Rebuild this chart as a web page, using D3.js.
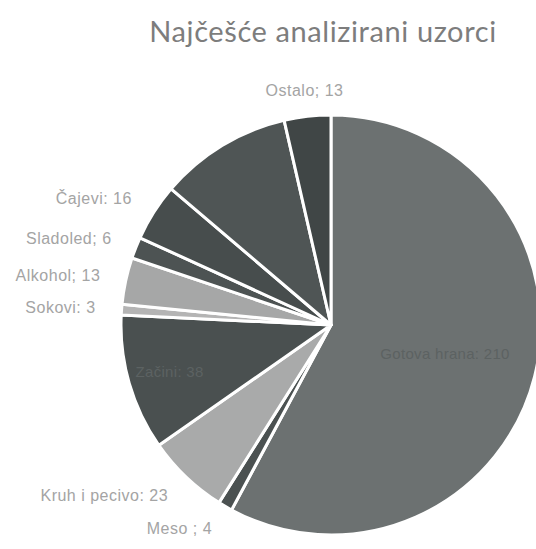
<!DOCTYPE html>
<html lang="hr">
<head>
<meta charset="UTF-8">
<title>Najčešće analizirani uzorci</title>
<script src="https://d3js.org/d3.v7.min.js"></script>
<style>
  * { margin: 0; padding: 0; }
  body { background: #fff; width: 536px; height: 549px; overflow: hidden; }
  .title { font-family: Lato, 'Open Sans', sans-serif; font-size: 29px; fill: #7d7d7d; letter-spacing: 0.6px; }
  .lbl { font-family: 'Liberation Sans', 'DejaVu Sans', sans-serif; font-size: 16px; fill: #a4a4a4; letter-spacing: 0.5px; }
  .lbl-in { font-family: 'Liberation Sans', 'DejaVu Sans', sans-serif; font-size: 15px; fill: #5c6262; letter-spacing: 0.3px; }
</style>
</head>
<body>
<svg width="536" height="549"></svg>
<script>
// slices, clockwise from 12 o'clock
const categories = ['Gotova hrana', 'Meso ', 'Kruh i pecivo', 'Začini', 'Sokovi', 'Alkohol', 'Sladoled', 'Čajevi', 'Kava', 'Ostalo'];
const values     = [210, 4, 23, 38, 3, 13, 6, 16, 37, 13];
const separators = [': ', '; ', ': ', ': ', ': ', '; ', '; ', ': ', ': ', '; '];
// where the label sits: outside the pie, inside it, or not shown (dark on dark in the scan)
const labelPlace = ['in', 'out', 'out', 'in', 'out', 'out', 'out', 'out', 'none', 'out'];
const fills      = ['#6c7171', '#4b5151', '#a9aaaa', '#4a5050', '#b4b4b4', '#a6a7a7', '#4d5353', '#474d4d', '#4f5555', '#404646'];

const svg = d3.select('svg');
const cx = 331, cy = 325, radius = 210;

svg.append('text')
  .attr('class', 'title')
  .attr('x', 323).attr('y', 42)
  .attr('text-anchor', 'middle')
  .text('Najčešće analizirani uzorci');

const data = categories.map((c, i) => ({ name: c, value: values[i], sep: separators[i], place: labelPlace[i], fill: fills[i] }));

const pie = d3.pie().value(d => d.value).sort(null);
const arcs = pie(data);

const arc = d3.arc().innerRadius(0).outerRadius(radius);
const outerLabelArc = d3.arc().innerRadius(radius + 26).outerRadius(radius + 26);
// big slice keeps its label closer to the centre, like the original
const innerLabelArc = d3.arc()
  .innerRadius(d => (d.endAngle - d.startAngle > Math.PI ? 0.56 : 0.8) * radius)
  .outerRadius(d => (d.endAngle - d.startAngle > Math.PI ? 0.56 : 0.8) * radius);

const g = svg.append('g').attr('transform', `translate(${cx},${cy})`);

g.selectAll('path')
  .data(arcs).join('path')
  .attr('d', arc)
  .attr('fill', d => d.data.fill)
  .attr('stroke', '#fff')
  .attr('stroke-width', 3)
  .attr('stroke-linejoin', 'round');

const labelText = d => d.data.name + d.data.sep + d.data.value;

// outside labels
g.selectAll('text.lbl')
  .data(arcs.filter(d => d.data.place === 'out')).join('text')
  .attr('class', 'lbl')
  .attr('transform', d => `translate(${outerLabelArc.centroid(d)})`)
  .attr('dy', '0.35em')
  .attr('text-anchor', d => {
    const mid = (d.startAngle + d.endAngle) / 2;
    if (mid > Math.PI * 1.85) return 'middle';
    return mid > Math.PI ? 'end' : 'start';
  })
  .text(labelText);

// inside labels
g.selectAll('text.lbl-in')
  .data(arcs.filter(d => d.data.place === 'in')).join('text')
  .attr('class', 'lbl-in')
  .attr('transform', d => `translate(${innerLabelArc.centroid(d)})`)
  .attr('dy', '0.35em')
  .attr('text-anchor', 'middle')
  .text(labelText);
</script>
</body>
</html>
